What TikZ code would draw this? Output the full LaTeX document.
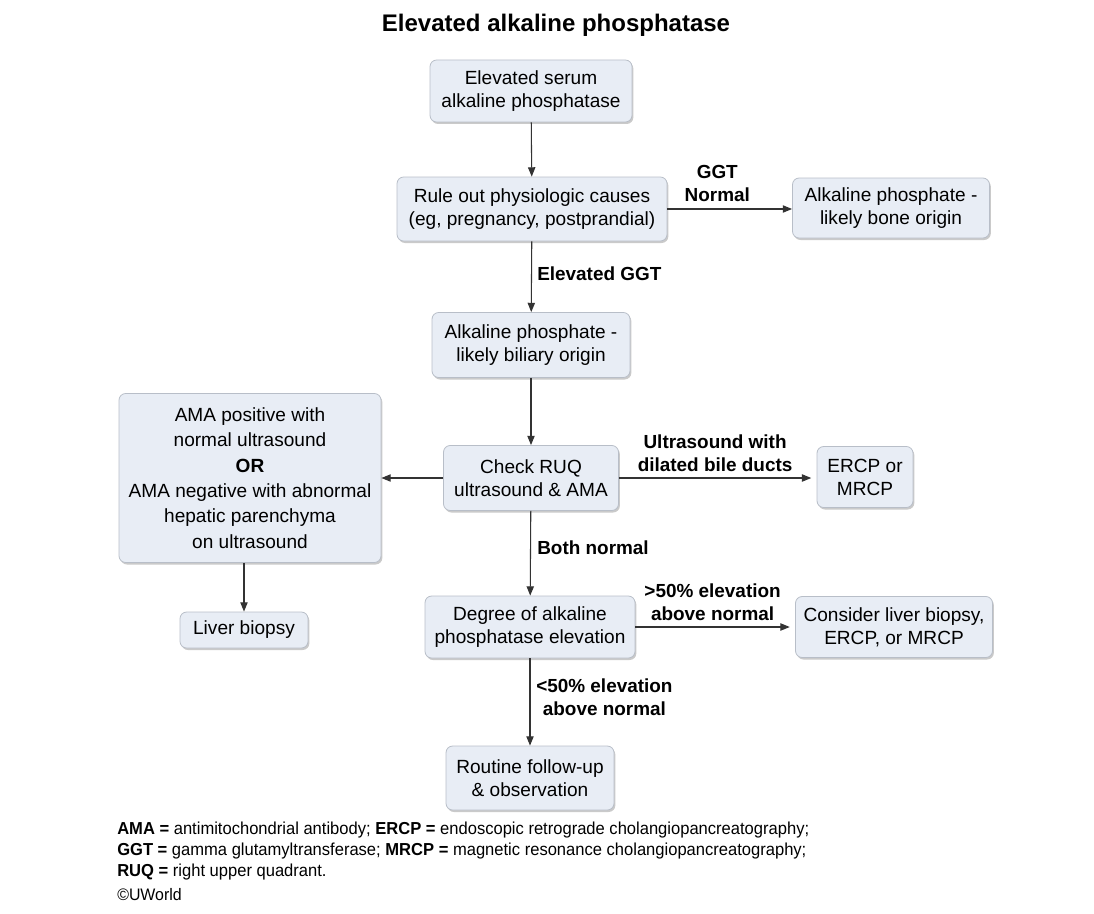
\documentclass[tikz,border=0pt]{standalone}
\usepackage{fontspec}
\setmainfont{Liberation Sans}
\newfontfamily\narrowfont[FakeStretch=0.955]{Liberation Sans}
\usetikzlibrary{arrows.meta,shadows,positioning}
\definecolor{boxfill}{HTML}{E8EDF5}
\definecolor{boxline}{HTML}{B8BEC8}
\definecolor{lineclr}{HTML}{333333}
\tikzset{
  box/.style={draw=boxline, line width=0.6pt, fill=boxfill, rounded corners=5pt,
    align=center, inner sep=0pt, font=\fontsize{14.3}{17.25}\selectfont,
    drop shadow={opacity=0.35, shadow xshift=1pt, shadow yshift=-1.5pt, fill=black!60}},
  conn/.style={draw=lineclr, line width=0.8pt, -{Triangle[length=7pt,width=5.5pt]}},
  elabel/.style={font=\bfseries\fontsize{14.2}{17.5}\selectfont, align=center, inner sep=0pt},
}
\begin{document}
\begin{tikzpicture}[x=0.75pt,y=-0.75pt]
\useasboundingbox (0,0) rectangle (1094,913);
\node[font=\bfseries\fontsize{18}{21}\selectfont] (title) at (556,25) {Elevated alkaline phosphatase};

\node[box, minimum width=151.5pt, minimum height=46.5pt] (b1) at (531,91) {Elevated serum\\alkaline phosphatase};
\node[box, minimum width=202.5pt, minimum height=48pt] (b2) at (532,209) {Rule out physiologic causes\\(eg, pregnancy, postprandial)};
\node[box, minimum width=147.75pt, minimum height=45pt] (b3) at (891,208) {Alkaline phosphate -\\likely bone origin};
\node[box, minimum width=148.5pt, minimum height=48.75pt] (b4) at (531,345) {Alkaline phosphate -\\likely biliary origin};
\node[box, minimum width=196.5pt, minimum height=126.75pt, font=\fontsize{14.3}{19}\selectfont] (b5) at (250,478) {AMA positive with\\normal ultrasound\\\textbf{OR}\\AMA negative with abnormal\\hepatic parenchyma\\on ultrasound};
\node[box, minimum width=131.25pt, minimum height=48.75pt] (b6) at (531,478) {Check RUQ\\ultrasound \& AMA};
\node[box, minimum width=72pt, minimum height=45.75pt] (b7) at (865,477) {ERCP or\\MRCP};
\node[box, minimum width=96pt, minimum height=27pt] (b8) at (244,630) {Liver biopsy};
\node[box, minimum width=157.5pt, minimum height=46.5pt] (b9) at (530,627) {Degree of alkaline\\phosphatase elevation};
\node[box, minimum width=147.75pt, minimum height=45.75pt] (b10) at (894,627) {Consider liver biopsy,\\ERCP, or MRCP};
\node[box, minimum width=126pt, minimum height=48pt] (b11) at (530,778) {Routine follow-up\\\& observation};

\draw[conn] (b1) -- (b2);
\draw[conn] (b2.east) -- (b2.east -| b3.west) node[elabel, pos=0.4, above=5pt] (l1) {GGT\\Normal};
\draw[conn] (b2) -- (b4);
\node[elabel, anchor=west] (l2) at (537,274) {Elevated GGT};
\draw[conn] (b4) -- (b6);
\draw[conn] (b6.west) -- (b5.east |- b6.west);
\draw[conn] (b6.east) -- ([xshift=-4pt]b7.west |- b6.east) node[elabel, midway, above=4pt] (l3) {Ultrasound with\\dilated bile ducts};
\draw[conn] (b6) -- (b9);
\node[elabel, anchor=west] (l4) at (537,548) {Both normal};
\draw[conn] (b5.south -| b8) -- (b8.north);
\draw[conn] (b9.east) -- ([xshift=-4pt]b10.west |- b9.east) node[elabel, midway, above=4pt] (l5) {>50\% elevation\\above normal};
\draw[conn] (b9) -- (b11);
\node[elabel, anchor=west] (l6) at (536,697) {<50\% elevation\\above normal};

\node[anchor=west, align=left, font=\narrowfont\fontsize{13}{15.4}\selectfont, inner sep=0pt] (fn) at (117,851)
{\textbf{AMA =} antimitochondrial antibody; \textbf{ERCP =} endoscopic retrograde cholangiopancreatography;\\
\textbf{GGT =} gamma glutamyltransferase; \textbf{MRCP =} magnetic resonance cholangiopancreatography;\\
\textbf{RUQ =} right upper quadrant.};
\node[anchor=west, font=\narrowfont\fontsize{12.5}{15}\selectfont, inner sep=0pt] (cp) at (117,895) {\textcopyright UWorld};
\end{tikzpicture}
\end{document}
